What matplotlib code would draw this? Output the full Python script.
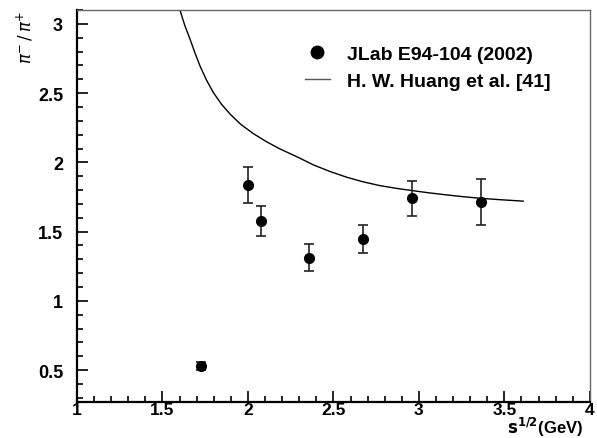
import matplotlib
matplotlib.use("Agg")
import matplotlib.pyplot as plt
from matplotlib.ticker import MultipleLocator
from matplotlib.lines import Line2D

plt.rcParams['font.family'] = ['Liberation Sans', 'DejaVu Sans']

# JLab E94-104 data
sqrt_s = [1.725, 2.00, 2.075, 2.358, 2.675, 2.957, 3.366]
ratio = [0.53, 1.835, 1.575, 1.311, 1.445, 1.74, 1.715]
err_up = [0.03, 0.13, 0.11, 0.096, 0.10, 0.128, 0.165]
err_dn = [0.03, 0.13, 0.11, 0.092, 0.10, 0.128, 0.165]

# H. W. Huang et al. curve
curve_x = [1.602, 1.63, 1.661, 1.69, 1.719, 1.757, 1.797, 1.845, 1.895, 1.96, 2.031,
           2.11, 2.187, 2.304, 2.382, 2.48, 2.577, 2.672, 2.772, 2.87, 2.967,
           3.065, 3.162, 3.26, 3.357, 3.48, 3.61]
curve_y = [3.10, 2.99, 2.89, 2.79, 2.697, 2.595, 2.505, 2.42, 2.349, 2.272, 2.208,
           2.148, 2.097, 2.030, 1.982, 1.934, 1.893, 1.860, 1.832, 1.812, 1.795,
           1.779, 1.765, 1.752, 1.741, 1.730, 1.720]

fig = plt.figure(figsize=(5.97, 4.39), dpi=100)
ax = fig.add_axes([0.129, 0.082, 0.859, 0.893])

ax.plot(curve_x, curve_y, color='black', lw=1.0)
ax.errorbar(sqrt_s, ratio, yerr=[err_dn, err_up], fmt='o', color='black',
            ecolor='#222222', elinewidth=1.2, capsize=3.3, capthick=1.2,
            markersize=7)

ax.set_xlim(1, 4)
ax.set_ylim(0.27, 3.1)
ax.xaxis.set_major_locator(MultipleLocator(0.5))
ax.xaxis.set_minor_locator(MultipleLocator(0.1))
ax.yaxis.set_major_locator(MultipleLocator(0.5))
ax.yaxis.set_minor_locator(MultipleLocator(0.1))
ax.xaxis.set_major_formatter(plt.FuncFormatter(lambda v, p: '%g' % v))
ax.yaxis.set_major_formatter(plt.FuncFormatter(lambda v, p: '%g' % v))
ax.tick_params(which='both', direction='in', top=False, right=False, width=1.2)
ax.tick_params(which='major', length=8, labelsize=13)
ax.tick_params(which='minor', length=4)
ax.tick_params(axis='x', which='major', pad=0, labelsize=12.5)
ax.tick_params(axis='y', which='major', pad=10)
for lab in ax.get_xticklabels() + ax.get_yticklabels():
    lab.set_fontweight('bold')

for side in ['left', 'bottom']:
    ax.spines[side].set_linewidth(1.6)
for side in ['top', 'right']:
    ax.spines[side].set_linewidth(1.0)
    ax.spines[side].set_color('#666666')

fig.text(0.976, 0.0, r'$\mathbf{s^{1/2}}$(GeV)', ha='right', va='bottom',
         fontsize=12, fontweight='bold')
fig.text(0.042, 0.975, r'$\pi^{-}\,/\,\pi^{+}$', rotation=90, ha='center',
         va='top', fontsize=12)

handles = [Line2D([], [], marker='o', color='black', ls='none', markersize=9),
           Line2D([], [], color='#555555', lw=1.0)]
ax.legend(handles, ['JLab E94-104 (2002)', 'H. W. Huang et al. [41]'],
          loc='upper left', bbox_to_anchor=(0.444, 0.91), frameon=False,
          prop={'weight': 'bold', 'size': 14}, handlelength=1.3,
          labelspacing=0.5, handletextpad=0.9, borderpad=0, borderaxespad=0)

fig.savefig('out.png', dpi=100)
